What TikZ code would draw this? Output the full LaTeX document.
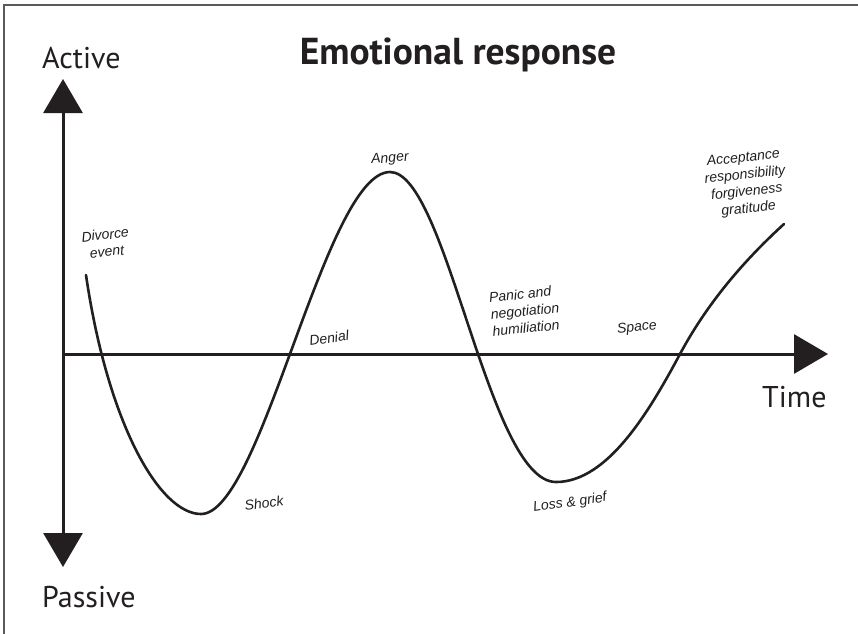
\documentclass[tikz,border=0pt]{standalone}
\usepackage{fontspec}
\setmainfont{PT Sans}
\newfontfamily\hand{Liberation Sans}
\usetikzlibrary{arrows.meta}
\definecolor{ink}{HTML}{231F20}
\definecolor{frame}{HTML}{5A5A5A}
\begin{document}
\begin{tikzpicture}[x=1pt,y=-1pt,
  axis/.style={line width=3pt, draw=ink, -{Triangle[length=34pt,width=39pt]}},
  axis2/.style={line width=3pt, draw=ink, {Triangle[length=34pt,width=39pt]}-{Triangle[length=34pt,width=39pt]}},
  big/.style={font=\fontsize{30}{32}\selectfont, text=ink, inner sep=0pt},
  ttl/.style={font=\bfseries\fontsize{37.5}{40}\selectfont, text=ink, inner sep=0pt},
  lab/.style={font=\hand\itshape\fontsize{14}{17}\selectfont, text=ink, inner sep=0pt, align=center},
  curve/.style={line width=2.6pt, draw=ink, line cap=round}]
\useasboundingbox (0,0) rectangle (858,633);
\fill[white] (0,0) rectangle (858,633);
% frame (top and left edges visible)
\draw[frame, line width=1.2pt] (4,640) -- (4,5) -- (870,5);

% axes
\coordinate (vtop) at (63,79);
\coordinate (vbot) at (63,567);
\coordinate (orig) at (63,354);
\coordinate (hend) at (828,354);
\draw[axis2] (vbot) -- (vtop);
\draw[axis] (orig) -- (hend);

% axis labels and title
\node[big, anchor=base west] (active) at (42,68) {Active};
\node[big, anchor=base west] (passive) at (42,607) {Passive};
\node[big, anchor=base west] (time) at (762,407) {Time};
\node[ttl, anchor=base] (title) at (458,64) {Emotional response};

% emotional curve
\coordinate (c0) at (86,275);
\coordinate (c1) at (201,514);
\coordinate (c2) at (390,172);
\coordinate (c3) at (556,482);
\coordinate (c4) at (680,354);
\coordinate (c5) at (784,224);
\draw[curve] (c0) .. controls (108,425) and (160,514) .. (c1)
  .. controls (262,514) and (325,172) .. (c2)
  .. controls (447,172) and (488,482) .. (c3)
  .. controls (608,482) and (650,410) .. (c4)
  .. controls (710,298) and (750,255) .. (c5);

% stage labels
\node[lab, rotate=6] (divorce) at (106,243) {Divorce\\event};
\node[lab, rotate=8] (denial) at (329,338) {Denial};
\node[lab, rotate=5] (anger) at (390,159) {Anger};
\node[lab, rotate=6] (accept) at (746,184) {Acceptance\\responsibility\\forgiveness\\gratitude};
\node[lab, rotate=6, align=left] (panic) at (525,311) {Panic and\\negotiation\\humiliation};
\node[lab, rotate=6] (space) at (637,328) {Space};
\node[lab, rotate=8] (shock) at (264,503) {Shock};
\node[lab, rotate=8] (loss) at (570,503) {Loss \& grief};
\end{tikzpicture}
\end{document}
